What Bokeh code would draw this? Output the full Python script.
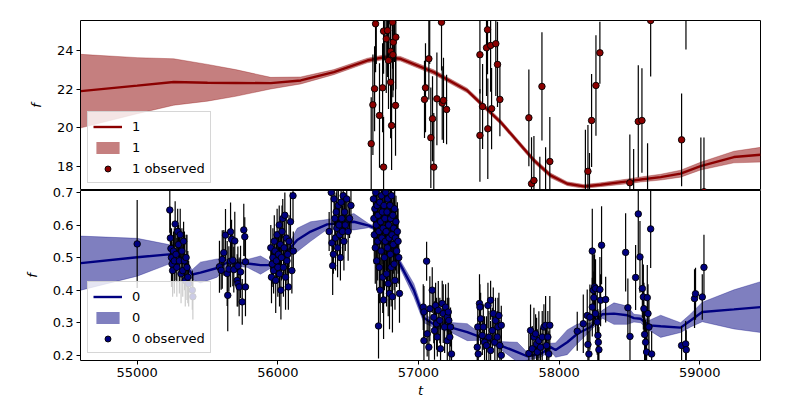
from bokeh.plotting import figure
from bokeh.layouts import column
from bokeh.models import (Range1d, FixedTicker, Legend, LegendItem,
                          ColumnDataSource, PrintfTickFormatter)
from bokeh.embed import file_html
from bokeh.resources import INLINE

# ---------------- data ----------------
# GP model, band "1" (top panel)
t_gp1 = [54600, 55000, 55260, 55500, 55700, 55950, 56163, 56398, 56636, 56754,
         56873, 57109, 57347, 57584, 57821, 57939, 58058, 58176, 58295, 58485,
         58580, 58722, 58864, 59006, 59243, 59432]
mean1 = [21.9, 22.18, 22.37, 22.33, 22.32, 22.31, 22.45, 22.88, 23.48, 23.65,
         23.57, 22.88, 21.93, 20.3, 18.32, 17.54, 17.11, 16.97, 17.06, 17.23,
         17.33, 17.45, 17.63, 18.02, 18.49, 18.61]
sig1 = [1.9, 1.45, 1.2, 0.95, 0.69, 0.3, 0.18, 0.13, 0.12, 0.12,
        0.12, 0.12, 0.12, 0.12, 0.12, 0.12, 0.1, 0.1, 0.1, 0.12,
        0.13, 0.15, 0.18, 0.2, 0.3, 0.38]

# observations, band "1"
t_obs1 = [56664, 56676, 56688, 56695, 56723, 56745, 56752, 56752, 56771, 56780,
          56787, 56802, 56802, 56809, 56816, 56818, 56821, 56837, 56839,
          56700, 56760, 56790, 56830,
          57043, 57050, 57074, 57088, 57100, 57109, 57131, 57164, 57169, 57178,
          57200, 57080,
          57437, 57437, 57456, 57484, 57491, 57493, 57513, 57520, 57550, 57562,
          57579,
          57785, 57804, 57821, 57863, 57904, 57878, 57934, 58187, 58205, 58216,
          58231, 58262, 58290, 58503, 58530, 58563, 58589, 58629, 58651, 58871,
          58902, 59008, 59030]
y_obs1 = [19.18, 21.19, 22.02, 25.38, 20.64, 22.07, 17.97, 25.0, 24.6, 25.03,
          23.48, 23.96, 22.36, 20.12, 25.46, 23.78, 24.43, 21.16, 24.69,
          26.5, 27.0, 26.2, 26.0,
          21.47, 22.07, 23.57, 19.49, 20.47, 17.97, 21.5, 25.46, 21.28, 21.42,
          20.95, 26.3,
          23.78, 19.61, 21.1, 24.14, 25.07, 19.95, 24.26, 20.99, 24.35, 23.28,
          21.47,
          20.52, 17.11, 17.28, 16.3, 16.5, 22.14, 18.26, 16.2, 17.75, 16.4,
          20.38, 22.19, 23.88, 17.16, 16.3, 20.33, 20.38, 16.5, 25.55, 19.38,
          26.8, 16.6, 16.7]
e_obs1 = [2.4, 2.6, 2.2, 2.5, 2.7, 2.3, 2.6, 2.2, 2.8, 2.4,
          2.5, 2.6, 2.9, 2.3, 2.4, 2.2, 2.5, 2.6, 2.7,
          3.2, 3.5, 2.7, 2.6,
          2.0, 2.3, 2.1, 2.6, 2.2, 2.8, 2.4, 2.5, 1.9, 2.2,
          1.8, 3.0,
          2.0, 2.4, 2.2, 2.5, 2.3, 2.6, 2.4, 2.1, 2.7, 2.2,
          1.9,
          2.5, 2.4, 2.3, 2.2, 2.5, 2.8, 2.3, 3.7, 2.4, 2.3,
          2.4, 2.6, 1.6, 2.5, 2.6, 2.9, 2.7, 2.7, 2.9, 2.4,
          2.75, 2.9, 2.8]

# GP model, band "0" (bottom panel)
t_gp0 = [54600, 55000, 55225, 55300, 55391, 55450, 55569, 55640, 55782, 55877,
         55948, 56050, 56138, 56233, 56351, 56450, 56541, 56647, 56750, 56861,
         56967, 57038, 57109, 57228, 57347, 57442, 57537, 57584, 57703, 57773,
         57868, 57939, 57975, 58058, 58130, 58224, 58307, 58390, 58485, 58532,
         58579, 58639, 58722, 58864, 58935, 59018, 59243, 59432]
mean0 = [0.483, 0.501, 0.51, 0.505, 0.448, 0.454, 0.468, 0.485, 0.482, 0.477,
         0.477, 0.51, 0.554, 0.58, 0.602, 0.606, 0.61, 0.598, 0.58, 0.487,
         0.4, 0.315, 0.295, 0.286, 0.271, 0.256, 0.24, 0.23, 0.21, 0.197,
         0.204, 0.225, 0.216, 0.24, 0.266, 0.287, 0.326, 0.328, 0.323, 0.314,
         0.312, 0.292, 0.289, 0.285, 0.307, 0.333, 0.341, 0.348]
sig0 = [0.083, 0.058, 0.03, 0.012, 0.015, 0.032, 0.028, 0.01, 0.012, 0.028,
        0.01, 0.008, 0.036, 0.03, 0.015, 0.02, 0.025, 0.006, 0.006, 0.012,
        0.02, 0.015, 0.01, 0.015, 0.026, 0.01, 0.01, 0.012, 0.03, 0.012,
        0.01, 0.012, 0.022, 0.038, 0.03, 0.012, 0.012, 0.033, 0.028, 0.012,
        0.012, 0.015, 0.034, 0.015, 0.02, 0.03, 0.06, 0.078]

# observations, band "0"
t_obs0 = [55000,
          # cluster A
          55232, 55236, 55240, 55244, 55248, 55252, 55258, 55264, 55270, 55276,
          55282, 55288, 55294, 55300, 55306, 55312, 55318, 55324, 55330, 55336,
          55342, 55348, 55354, 55360, 55366, 55392, 55396,
          # cluster B
          55585, 55597, 55605, 55616, 55628, 55640, 55644, 55652, 55664, 55664,
          55671, 55680, 55687, 55694, 55711, 55716, 55716, 55725, 55735, 55747,
          55758, 55765, 55770, 55770,
          # cluster C
          55950, 55955, 55960, 55965, 55970, 55975, 55980, 55985, 55990, 55995,
          56000, 56005, 56010, 56012, 56018, 56022, 56026, 56030, 56035, 56040,
          56045, 56050, 56055, 56060, 56065, 56070, 56075, 56080, 56090, 56100,
          56108, 56110,
          # cluster D
          56365, 56380, 56385, 56390, 56395, 56400, 56405, 56410, 56415, 56420,
          56425, 56430, 56435, 56440, 56445, 56450, 56455, 56460, 56465, 56470,
          56475, 56480, 56490, 56500, 56510, 56520, 56420,
          # cluster E
          56680, 56683, 56686, 56690, 56693, 56696, 56700, 56703, 56706, 56710,
          56713, 56716, 56719, 56722, 56725, 56728, 56731, 56734, 56737, 56740,
          56743, 56746, 56749, 56752, 56755, 56758, 56761, 56764, 56767, 56770,
          56773, 56776, 56779, 56782, 56785, 56788, 56791, 56794, 56797, 56800,
          56803, 56806, 56809, 56812, 56815, 56818, 56821, 56824, 56827, 56830,
          56833, 56836, 56840, 56845, 56850, 56855, 56860, 56865,
          56700, 56760, 56800, 56830,
          # cluster F
          57034, 57039, 57058, 57039, 57062, 57074, 57081, 57098, 57109, 57114,
          57122, 57129, 57134, 57141, 57152, 57157, 57169, 57176, 57186, 57193,
          57205, 57205, 57212, 57216, 57223, 57228, 57235,
          # cluster G
          57418, 57422, 57425, 57434, 57437, 57442, 57454, 57461, 57470, 57484,
          57494, 57501, 57513, 57513, 57525, 57532, 57543, 57548, 57560, 57565,
          57572, 57579, 57589, 57589,
          # cluster H
          57785, 57797, 57809, 57821, 57833, 57840, 57845, 57856, 57868, 57880,
          57892, 57904, 57911, 57920, 57927, 57934, 58129, 58172,
          # cluster I
          58200, 58205, 58212, 58219, 58236, 58236, 58243, 58247, 58252, 58259,
          58259, 58271, 58276, 58279, 58283, 58290, 58302, 58295, 58331,
          # cluster J
          58473, 58489, 58504, 58544, 58563, 58575, 58592, 58599, 58603, 58608,
          58615, 58622, 58627, 58632, 58639, 58651, 58658,
          # cluster K
          58871, 58900, 58904, 58963, 58970, 59018, 59030]
y_obs0 = [0.542,
          0.646, 0.56, 0.528, 0.50, 0.48, 0.46, 0.52, 0.49, 0.603, 0.51,
          0.47, 0.58, 0.54, 0.49, 0.57, 0.45, 0.52, 0.46, 0.55, 0.49,
          0.43, 0.50, 0.47, 0.44, 0.42, 0.40, 0.38,
          0.472, 0.461, 0.494, 0.515, 0.569, 0.451, 0.384, 0.465, 0.489, 0.579,
          0.556, 0.492, 0.463, 0.551, 0.43, 0.42, 0.474, 0.41, 0.456, 0.364,
          0.585, 0.564, 0.487, 0.41,
          0.53, 0.44, 0.48, 0.50, 0.46, 0.55, 0.52, 0.43, 0.49, 0.57,
          0.47, 0.51, 0.60, 0.45, 0.54, 0.40, 0.50, 0.58, 0.62, 0.47,
          0.53, 0.63, 0.44, 0.56, 0.49, 0.51, 0.41, 0.55, 0.61, 0.46,
          0.69, 0.52,
          0.58, 0.70, 0.545, 0.475, 0.51, 0.68, 0.62, 0.56, 0.64, 0.59,
          0.53, 0.66, 0.60, 0.57, 0.50, 0.67, 0.62, 0.58, 0.69, 0.55,
          0.64, 0.60, 0.68, 0.58, 0.62, 0.66, 0.73,
          0.68, 0.62, 0.57, 0.65, 0.53, 0.70, 0.60, 0.49, 0.66, 0.55,
          0.63, 0.29, 0.58, 0.47, 0.67, 0.40, 0.61, 0.52, 0.69, 0.56,
          0.64, 0.44, 0.59, 0.37, 0.66, 0.50, 0.62, 0.55, 0.70, 0.58,
          0.45, 0.64, 0.53, 0.68, 0.42, 0.60, 0.56, 0.39, 0.66, 0.51,
          0.62, 0.47, 0.69, 0.57, 0.38, 0.63, 0.54, 0.59, 0.48, 0.65,
          0.43, 0.56, 0.61, 0.52, 0.58, 0.55, 0.50, 0.39,
          0.74, 0.76, 0.73, 0.75,
          0.348, 0.333, 0.489, 0.245, 0.266, 0.225, 0.343, 0.40, 0.317, 0.276,
          0.353, 0.297, 0.256, 0.338, 0.307, 0.22, 0.359, 0.328, 0.287, 0.348,
          0.317, 0.245, 0.333, 0.307, 0.256, 0.287, 0.204,
          0.225, 0.287, 0.204, 0.359, 0.348, 0.312, 0.261, 0.287, 0.24, 0.23,
          0.353, 0.256, 0.369, 0.215, 0.276, 0.328, 0.24, 0.307, 0.256, 0.287,
          0.322, 0.23, 0.292, 0.2,
          0.206, 0.276, 0.22, 0.256, 0.266, 0.235, 0.21, 0.245, 0.225, 0.256,
          0.287, 0.292, 0.23, 0.256, 0.204, 0.292, 0.274, 0.297,
          0.322, 0.233, 0.204, 0.317, 0.52, 0.348, 0.40, 0.377, 0.41, 0.405,
          0.328, 0.302, 0.261, 0.24, 0.217, 0.402, 0.538, 0.369, 0.371,
          0.516, 0.346, 0.258, 0.439, 0.634, 0.502, 0.405, 0.379, 0.343, 0.264,
          0.24, 0.21, 0.377, 0.328, 0.287, 0.588, 0.204,
          0.23, 0.235, 0.217, 0.374, 0.389, 0.379, 0.47]
e_obs0 = [0.135,
          0.07, 0.08, 0.06, 0.09, 0.07, 0.08, 0.06, 0.10, 0.07, 0.08,
          0.09, 0.07, 0.06, 0.10, 0.08, 0.09, 0.07, 0.08, 0.06, 0.09,
          0.08, 0.07, 0.10, 0.08, 0.07, 0.06, 0.07,
          0.08, 0.06, 0.09, 0.07, 0.08, 0.10, 0.11, 0.07, 0.08, 0.09,
          0.06, 0.08, 0.07, 0.09, 0.08, 0.07, 0.06, 0.09, 0.08, 0.07,
          0.08, 0.06, 0.07, 0.09,
          0.07, 0.08, 0.06, 0.09, 0.07, 0.08, 0.06, 0.10, 0.07, 0.08,
          0.09, 0.07, 0.06, 0.10, 0.08, 0.09, 0.07, 0.08, 0.06, 0.09,
          0.08, 0.07, 0.10, 0.08, 0.07, 0.06, 0.07, 0.08, 0.09, 0.07,
          0.08, 0.06,
          0.06, 0.08, 0.07, 0.09, 0.06, 0.08, 0.07, 0.10, 0.06, 0.08,
          0.09, 0.07, 0.06, 0.08, 0.07, 0.09, 0.06, 0.08, 0.07, 0.09,
          0.06, 0.08, 0.07, 0.09, 0.06, 0.08, 0.07,
          0.08, 0.10, 0.09, 0.07, 0.11, 0.08, 0.10, 0.09, 0.08, 0.12,
          0.07, 0.10, 0.09, 0.11, 0.08, 0.10, 0.07, 0.12, 0.09, 0.08,
          0.10, 0.11, 0.09, 0.12, 0.08, 0.10, 0.07, 0.09, 0.11, 0.08,
          0.10, 0.09, 0.12, 0.08, 0.10, 0.07, 0.09, 0.11, 0.08, 0.10,
          0.09, 0.12, 0.08, 0.10, 0.11, 0.07, 0.09, 0.10, 0.08, 0.12,
          0.09, 0.10, 0.08, 0.11, 0.09, 0.10, 0.08, 0.09,
          0.10, 0.12, 0.09, 0.11,
          0.07, 0.08, 0.06, 0.09, 0.07, 0.08, 0.10, 0.07, 0.08, 0.09,
          0.07, 0.08, 0.06, 0.09, 0.07, 0.08, 0.07, 0.09, 0.08, 0.07,
          0.06, 0.08, 0.09, 0.07, 0.08, 0.06, 0.07,
          0.07, 0.08, 0.06, 0.09, 0.07, 0.08, 0.06, 0.07, 0.08, 0.09,
          0.07, 0.08, 0.06, 0.09, 0.07, 0.08, 0.06, 0.07, 0.08, 0.09,
          0.07, 0.08, 0.06, 0.09,
          0.06, 0.08, 0.07, 0.09, 0.06, 0.08, 0.07, 0.09, 0.06, 0.08,
          0.07, 0.09, 0.06, 0.08, 0.07, 0.09, 0.06, 0.09,
          0.08, 0.09, 0.07, 0.10, 0.13, 0.09, 0.11, 0.08, 0.10, 0.09,
          0.07, 0.10, 0.08, 0.09, 0.07, 0.10, 0.12, 0.08, 0.07,
          0.12, 0.09, 0.08, 0.10, 0.13, 0.11, 0.09, 0.10, 0.08, 0.09,
          0.07, 0.08, 0.10, 0.09, 0.08, 0.12, 0.07,
          0.06, 0.07, 0.06, 0.09, 0.08, 0.07, 0.10]

# ---------------- layout constants ----------------
FONT = "DejaVu Sans"
COL1 = "#8b0000"
COL0 = "#000080"
OVER = 8  # bottom panel's top border overlaps the top panel


def style_axis(ax):
    ax.axis_label_text_font_style = "italic"
    ax.axis_label_text_font = FONT
    ax.axis_label_text_font_size = "13px"
    ax.axis_label_text_color = "black"
    ax.major_label_text_font = FONT
    ax.major_label_text_font_size = "13px"
    ax.major_label_text_color = "black"
    ax.major_tick_line_color = "black"
    ax.major_tick_out = 4
    ax.major_tick_in = 0
    ax.minor_tick_out = 0
    ax.minor_tick_in = 0
    ax.major_label_standoff = 3
    ax.axis_line_color = None


def make_panel(t_gp, mean, sig, t_obs, y_obs, e_obs, color, label,
               y_lo, y_hi, yticks, yfmt, x_range, bottom):
    kw = dict(frame_width=680, frame_height=170, output_backend="svg",
              toolbar_location=None, y_range=Range1d(y_lo, y_hi),
              x_range=x_range, min_border_left=80, min_border_right=30,
              min_border_bottom=0)
    if bottom:
        p = figure(min_border_top=OVER, **kw)
        p.margin = (-OVER, 0, 0, 0)
        p.border_fill_alpha = 0
    else:
        p = figure(x_axis_location=None, min_border_top=20, **kw)

    gp = ColumnDataSource(dict(t=t_gp, m=mean,
                               lo=[a - b for a, b in zip(mean, sig)],
                               hi=[a + b for a, b in zip(mean, sig)]))
    obs = ColumnDataSource(dict(t=t_obs, y=y_obs,
                                lo=[a - b for a, b in zip(y_obs, e_obs)],
                                hi=[a + b for a, b in zip(y_obs, e_obs)]))

    band = p.varea(x="t", y1="lo", y2="hi", source=gp, fill_color=color,
                   fill_alpha=0.5)
    p.line(x="t", y="lo", source=gp, line_color=color, line_alpha=0.3,
           line_width=1)
    p.line(x="t", y="hi", source=gp, line_color=color, line_alpha=0.3,
           line_width=1)
    ln = p.line(x="t", y="m", source=gp, line_color=color, line_width=2.4)
    p.segment(x0="t", y0="lo", x1="t", y1="hi", source=obs,
              line_color="black", line_width=1.2)
    sc = p.scatter(x="t", y="y", source=obs, size=6.5, fill_color=color,
                   line_color="black", line_width=0.9)

    legend = Legend(items=[LegendItem(label=label, renderers=[ln]),
                           LegendItem(label=label, renderers=[band]),
                           LegendItem(label=label + " observed",
                                      renderers=[sc])],
                    location="bottom_left")
    legend.margin = 7
    legend.padding = 5
    legend.spacing = 3
    legend.glyph_width = 29
    legend.glyph_height = 15
    legend.label_height = 18
    legend.label_standoff = 10
    legend.label_text_font = FONT
    legend.label_text_font_size = "13px"
    legend.label_text_color = "black"
    legend.background_fill_alpha = 0.8
    legend.border_line_color = "#cccccc"
    legend.border_line_alpha = 0.8
    p.add_layout(legend)

    p.outline_line_color = "black"
    p.outline_line_width = 1
    p.outline_line_alpha = 1
    p.xgrid.visible = False
    p.ygrid.visible = False

    ya = p.yaxis[0]
    ya.ticker = FixedTicker(ticks=yticks)
    ya.formatter = PrintfTickFormatter(format=yfmt)
    ya.axis_label = "f"
    ya.axis_label_standoff = 10
    style_axis(ya)

    if bottom:
        xa = p.xaxis[0]
        xa.ticker = FixedTicker(ticks=[55000, 56000, 57000, 58000, 59000])
        xa.formatter = PrintfTickFormatter(format="%d")
        xa.axis_label = "t"
        xa.axis_label_standoff = 3
        style_axis(xa)
    return p


xr = Range1d(54597, 59432)
p1 = make_panel(t_gp1, mean1, sig1, t_obs1, y_obs1, e_obs1, COL1, "1",
                16.76, 25.55, [18, 20, 22, 24], "%d", xr, False)
p0 = make_panel(t_gp0, mean0, sig0, t_obs0, y_obs0, e_obs0, COL0, "0",
                0.184, 0.706, [0.2, 0.3, 0.4, 0.5, 0.6, 0.7], "%.1f", xr, True)

layout = column(p1, p0, spacing=0)
open("out.html", "w").write(file_html(layout, INLINE))
